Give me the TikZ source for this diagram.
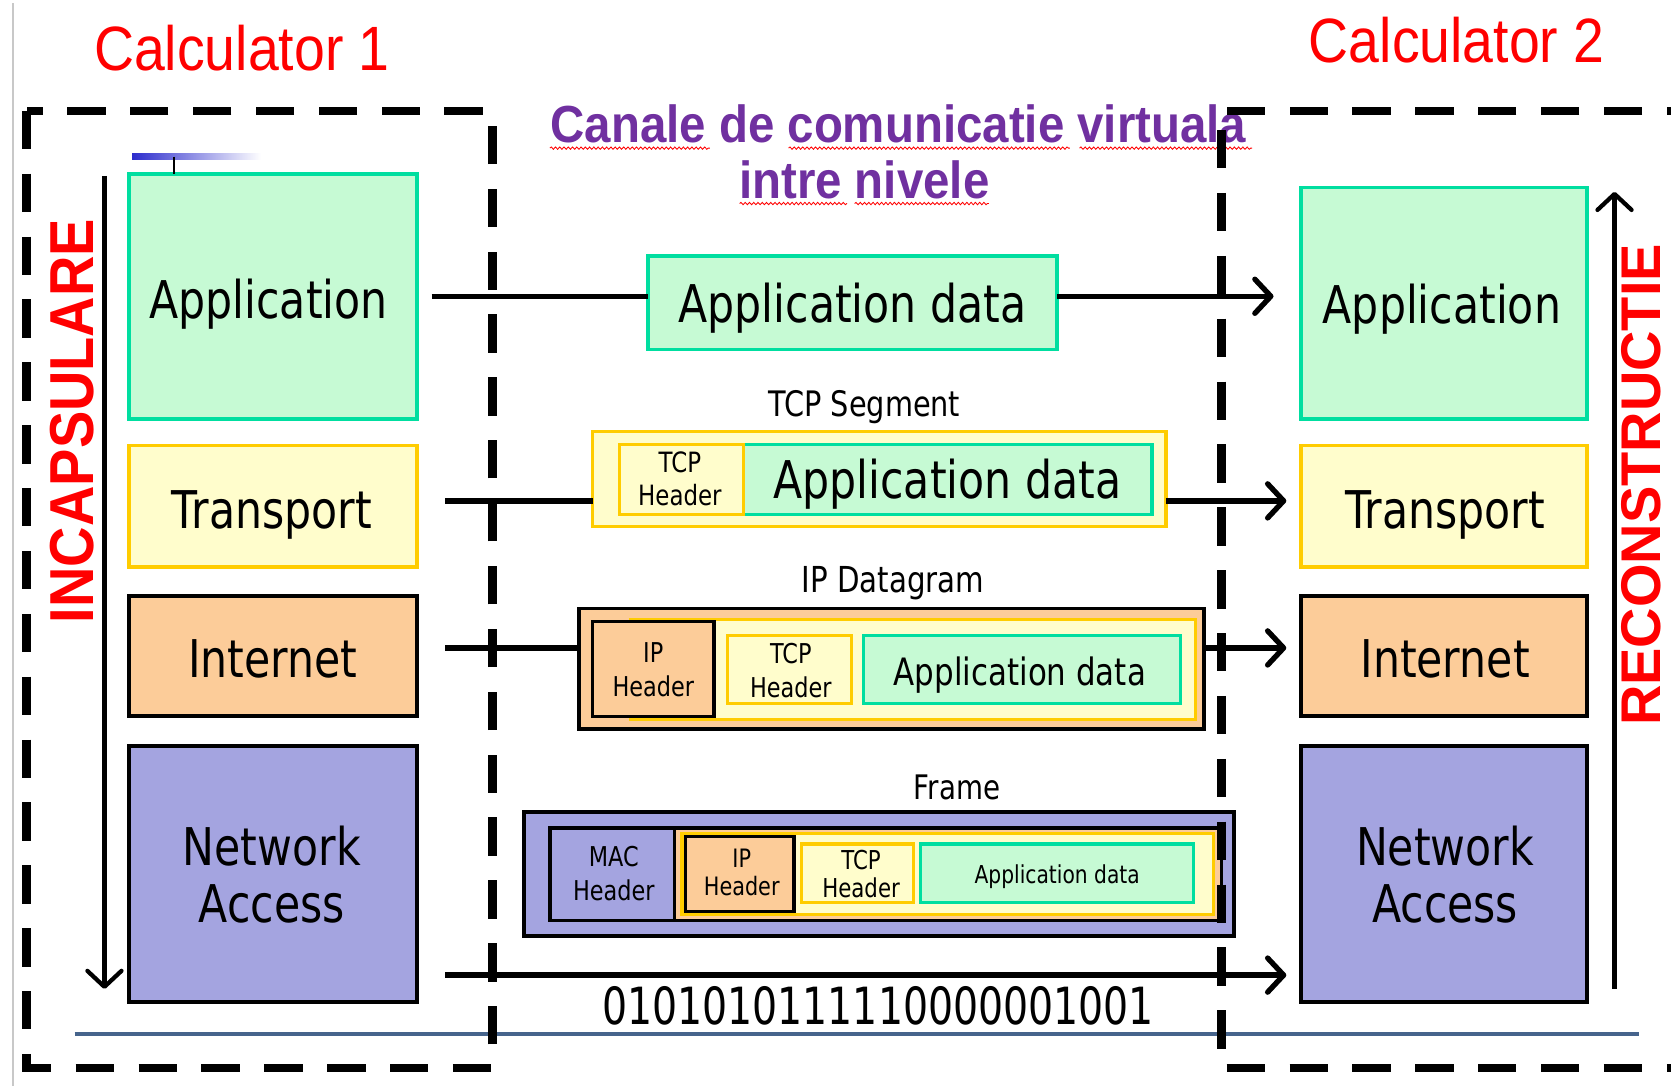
\documentclass[tikz,border=0pt]{standalone}
\usepackage{fontspec}
\usepackage{graphicx}
\usetikzlibrary{arrows.meta,decorations.pathmorphing}
\newfontfamily\arialf{Liberation Sans}
\newfontfamily\tahf{DejaVu Sans}
\definecolor{appfill}{RGB}{198,250,212}
\definecolor{appdraw}{RGB}{0,222,160}
\definecolor{trfill}{RGB}{255,253,204}
\definecolor{trdraw}{RGB}{255,204,0}
\definecolor{infill}{RGB}{252,204,153}
\definecolor{nafill}{RGB}{164,164,224}
\definecolor{titlepurple}{RGB}{112,48,160}
\definecolor{busline}{RGB}{70,100,140}
\definecolor{edgegray}{RGB}{200,200,200}
\definecolor{tagblue}{RGB}{45,45,205}
\begin{document}
\begin{tikzpicture}[x=1pt,y=-1pt,
  >={Straight Barb[length=15pt,width=32pt,round]},
  sz/.style 2 args={minimum width=#1pt, minimum height=#2pt},
  lay/.style={line width=3.5pt, inner sep=0pt, outer sep=0pt},
  prt/.style={line width=3pt, inner sep=0pt, outer sep=0pt},
  appc/.style={draw=appdraw, fill=appfill},
  trc/.style={draw=trdraw, fill=trfill},
  inc/.style={draw=black, fill=infill},
  nac/.style={draw=black, fill=nafill},
  laytext/.style={font=\tahf\fontsize{40}{44}\selectfont, inner sep=0pt, yscale=1.22, align=center},
  datatext/.style={font=\tahf\fontsize{#1}{#1}\selectfont, inner sep=0pt, yscale=1.22, anchor=base},
  hdr/.style 2 args={font=\tahf\fontsize{#1}{#2}\selectfont, inner sep=0pt, yscale=1.22, align=center},
  pktname/.style={font=\tahf\fontsize{#1}{#1}\selectfont, inner sep=0pt, yscale=1.22, anchor=base},
  pcname/.style={font=\arialf\fontsize{52}{60}\selectfont, text=red, inner sep=0pt, yscale=1.13, anchor=base},
  sidetext/.style={font=\arialf\bfseries\fontsize{52.5}{60}\selectfont, text=red, inner sep=0pt, rotate=90},
  titletext/.style={font=\arialf\bfseries\fontsize{44.5}{50}\selectfont, text=titlepurple, inner sep=0pt, yscale=1.1, anchor=base},
  squig/.style={draw=red, line width=0.8pt, decorate, decoration={snake, amplitude=1.1pt, segment length=4pt}},
  wire/.style={line width=5pt},
  flow/.style={line width=4pt},
  dashline/.style={line width=8pt, dash pattern=on 36pt off 23pt}
]
\useasboundingbox (0,0) rectangle (1568,1019);
\fill[white] (0,0) rectangle (1568,1019);

% page edge
\draw[edgegray, line width=1.5pt] (12,3) -- (12,1019);

% host titles
\node[pcname] (pc1) at (227,66) {Calculator 1};
\node[pcname] (pc2) at (1367,59) {Calculator 2};

% channel title with spell-check marks
\node[titletext] (title1) at (843,134) {Canale de comunicatie virtuala};
\node[titletext] (title2) at (811,186) {intre nivele};
\draw[squig] (516,139) -- (666,139);
\draw[squig] (740,139) -- (1004,139);
\draw[squig] (1013,139) -- (1175,139);
\draw[squig] (694,191) -- (795,191);
\draw[squig] (802,191) -- (928,191);

% layer stack, sender
\node[lay, appc, sz={270}{230}] (appL) at (256,278) {};
\node[lay, trc,  sz={270}{114}] (trL)  at (256,475) {};
\node[lay, inc,  sz={270}{113}] (inL)  at (256,615.5) {};
\node[lay, nac,  sz={270}{240}] (naL)  at (256,820) {};
\node[laytext, anchor=base] (appLt) at (252,299) {Application};
\node[laytext, anchor=base] (trLt)  at (255,496) {Transport};
\node[laytext, anchor=base] (inLt)  at (256,636) {Internet};
\node[laytext] (naLt) at (255,821) {Network\\Access};

% layer stack, receiver
\node[lay, appc, sz={268}{217}] (appR) at (1355,284.5) {};
\node[lay, trc,  sz={268}{114}] (trR)  at (1355,475) {};
\node[lay, inc,  sz={268}{113}] (inR)  at (1355,615.5) {};
\node[lay, nac,  sz={268}{240}] (naR)  at (1355,820) {};
\node[laytext, anchor=base] (appRt) at (1353,304) {Application};
\node[laytext, anchor=base] (trRt)  at (1356,496) {Transport};
\node[laytext, anchor=base] (inRt)  at (1356,636) {Internet};
\node[laytext] (naRt) at (1356,821) {Network\\Access};

% blue tab above the sender stack
\shade[left color=tagblue, middle color=tagblue, right color=white] (124,144.5) rectangle (245,150);
\coordinate (tabfoot) at (163,147);
\draw[line width=2pt] (tabfoot) -- (tabfoot |- appL.north);

% application data
\node[lay, appc, sz={384}{88}] (adata) at (800,284) {};
\node[datatext=40] (adatat) at (800,303) {Application data};

% TCP segment
\node[pktname=27] (segname) at (811,391) {TCP Segment};
\node[lay, trc, sz={538}{89}] (seg) at (825,449.5) {};
\node[prt, appc, sz={383}{66}] (segD) at (889.5,450) {};
\node[prt, trc, sz={117}{66}] (segH) at (639.5,450) {};
\node[hdr={21.5}{25.5}] (segHt) at (638,449) {TCP\\Header};
\node[datatext=40] (segDt) at (889,468) {Application data};

% IP datagram
\node[pktname=27.5] (dgname) at (838,556) {IP Datagram};
\node[lay, inc, sz={587}{113}] (dg) at (836.5,627.5) {};
\node[prt, trc, sz={530}{94}] (dgG) at (857,628) {};
\node[prt, trc, sz={116}{64}] (dgT) at (741,628) {};
\node[prt, appc, sz={298}{64}] (dgD) at (959,628) {};
\node[prt, inc, sz={114}{89}] (dgIP) at (613,627.5) {};
\node[hdr={21}{26}] (dgIPt) at (613,628.5) {IP\\Header};
\node[hdr={21}{26}] (dgTt) at (742,629) {TCP\\Header};
\node[datatext=29] (dgDt) at (957,643) {Application data};

% frame
\node[pktname=26] (frname) at (898,750) {Frame};
\node[lay, nac, sz={666}{116}] (fr) at (825,820) {};
\node[prt, inc, sz={630}{87}] (frIn) at (831,820.5) {};
\node[prt, nac, sz={117}{87}] (frMAC) at (574.5,820.5) {};
\node[prt, trc, sz={499}{76}] (frG) at (889.5,820) {};
\node[prt, inc, sz={102}{70}] (frIP) at (694,820) {};
\node[prt, trc, sz={105}{55}] (frT) at (804.5,819.5) {};
\node[prt, appc, sz={256}{55}] (frD) at (992,819.5) {};
\node[hdr={21}{26}] (frMACt) at (576,820) {MAC\\Header};
\node[hdr={19.5}{21.5}] (frIPt) at (696,819) {IP\\Header};
\node[hdr={20}{21.5}] (frTt) at (808,820) {TCP\\Header};
\node[datatext=19] (frDt) at (992,829) {Application data};

% bit stream
\node[font=\tahf\fontsize{37}{37}\selectfont, inner sep=0pt, yscale=1.3, anchor=base] (bits) at (824,961) {0101010111110000001001};

% connectors between the two stacks
\coordinate (aS) at (405,278);  \coordinate (aE) at (1195,278);
\coordinate (tS) at (418,470);  \coordinate (tE) at (1207,470);
\coordinate (iS) at (418,608);  \coordinate (iE) at (1207,608);
\coordinate (nS) at (418,915);  \coordinate (nE) at (1207,915);
\draw[wire] (aS) -- (aS -| adata.west);
\draw[wire,->] (aS -| adata.east) -- (aE);
\draw[wire] (tS) -- (tS -| seg.west);
\draw[wire,->] (tS -| seg.east) -- (tE);
\draw[wire] (iS) -- (iS -| dg.west);
\draw[wire,->] (iS -| dg.east) -- (iE);
\draw[wire,->] (nS) -- (nE);

% encapsulation / reconstruction arrows
\coordinate (encTop) at (98,165);   \coordinate (encBot) at (98,928);
\coordinate (decBot) at (1515,928); \coordinate (decTop) at (1515,180);
\draw[flow,->] (encTop) -- (encBot);
\draw[flow,->] (decBot) -- (decTop);
\node[sidetext] (enc) at (68,395) {\scalebox{1}[1.11]{INCAPSULARE}};
\node[sidetext] (dec) at (1540,455) {RECONSTRUCTIE};

% physical medium
\draw[busline, line width=4pt] (70,970) -- (1538,970);

% host boundaries
\draw[dashline] (25,104) rectangle (462,1002);
\draw[dashline] (1600,104) -- (1146,104) -- (1146,1002) -- (1600,1002);
\end{tikzpicture}
\end{document}
